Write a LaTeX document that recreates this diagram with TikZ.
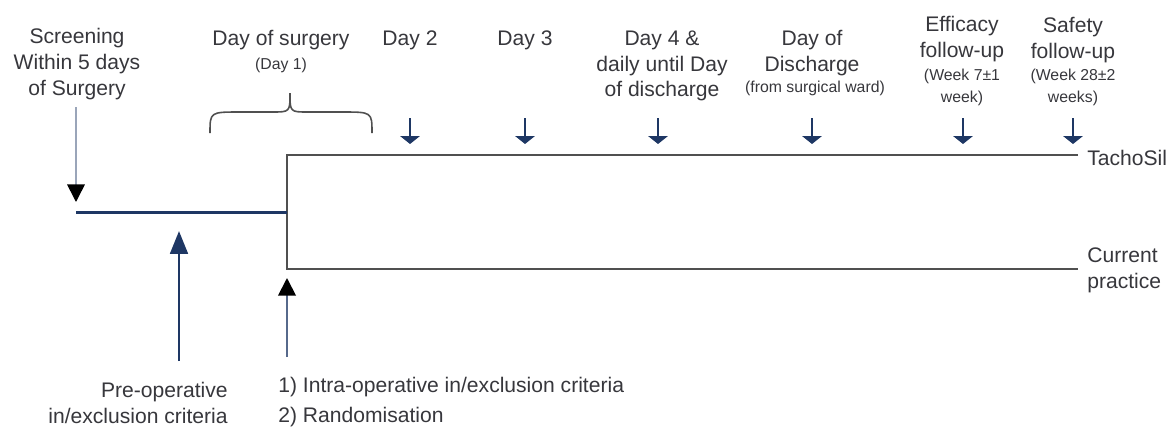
\documentclass[tikz,border=0pt]{standalone}
\usepackage{fontspec}
\setmainfont{Liberation Sans}
\usetikzlibrary{arrows.meta, positioning}
\definecolor{marino}{RGB}{30,55,100}
\definecolor{texto}{RGB}{55,55,60}
\definecolor{linea}{RGB}{80,80,80}
\tikzset{
  etiq/.style={align=center, text=texto, inner sep=0pt,
    font=\fontsize{12}{14.7}\selectfont},
  nota/.style={etiq, font=\fontsize{9}{12.5}\selectfont},
  rama/.style={draw=linea, line width=1.2pt},
  tronco/.style={draw=marino, line width=1.7pt},
  flecha/.style={-{Triangle[width=10pt, length=10pt, color=black]}, line width=0.9pt},
  flechag/.style={-{Triangle[width=10pt, length=13pt]}, draw=marino, line width=1.7pt},
  flechac/.style={-{Triangle[width=11pt, length=4.5pt]}, draw=marino, line width=1.2pt}
}
\begin{document}
\begin{tikzpicture}[x=0.02cm, y=-0.02cm]
  \useasboundingbox (0,0) rectangle (1172,430);
  % etiquetas de la linea temporal
  \node[etiq] (scr) at (77,64) {Screening\\Within 5 days\\of Surgery};
  \node[etiq] (cir) at (281,40) {Day of surgery};
  \node[nota, below=4pt of cir] (cirb) {(Day 1)};
  \node[etiq] (d2) at (410,40) {Day 2};
  \node[etiq] (d3) at (525,40) {Day 3};
  \node[etiq] (d4) at (662,66) {Day 4 \&\\daily until Day\\of discharge};
  \node[etiq] (alta) at (812,53) {Day of\\Discharge};
  \node[nota] (altab) at (815,88) {(from surgical ward)};
  \node[etiq] (efi) at (962,39) {Efficacy\\follow-up};
  \node[nota] (efib) at (962,87) {(Week 7±1\\week)};
  \node[etiq] (seg) at (1073,40) {Safety\\follow-up};
  \node[nota] (segb) at (1073,87) {(Week 28±2\\weeks)};
  \node[etiq, anchor=west] (tacho) at (1087,158) {TachoSil};
  \node[etiq, anchor=west, align=left] (actual) at (1087,270) {Current\\practice};
  \node[etiq, anchor=east, align=right, font=\fontsize{12}{15.3}\selectfont] (preop)
    at (228,403) {Pre-operative\\in/exclusion criteria};
  \node[etiq, anchor=west, align=left, font=\fontsize{12}{17.6}\selectfont] (intra)
    at (278,402) {1) Intra-operative in/exclusion criteria\\2) Randomisation};
  % llave del dia de cirugia
  \draw[linea, line width=0.9pt] (210,133) .. controls (210,112) .. (240,112) -- (272,112)
    .. controls (290,112) .. (290,93) .. controls (290,112) .. (308,112) -- (342,112)
    .. controls (372,112) .. (372,133);
  % brazos del ensayo
  \coordinate (ini) at (76,212);
  \coordinate (rand) at (287,212);
  \coordinate (tA) at (287,155);
  \coordinate (tB) at (1078,155);
  \coordinate (cA) at (287,269);
  \coordinate (cB) at (1078,269);
  \draw[rama] (tB) -- (tA) -- (cA) -- (cB);
  \draw[tronco] (ini) -- (rand);
  \coordinate (scrA) at (76,107);
  \coordinate (scrB) at (76,202);
  \draw[flecha, draw=marino!45] (scrA) -- (scrB);
  \coordinate (preA) at (179,361);
  \coordinate (preB) at (179,231);
  \draw[flechag] (preA) -- (preB);
  \coordinate (ranA) at (287,357);
  \coordinate (ranB) at (287,278);
  \draw[flecha, draw=marino!75, line width=1.1pt] (ranA) -- (ranB);
  % visitas
  \foreach \n/\x in {d2/410, d3/525, d4/658, alta/812, efi/963, seg/1073}{
    \coordinate (\n a) at (\x,118);
    \coordinate (\n b) at (\x,144);
    \draw[flechac] (\n a) -- (\n b);
  }
\end{tikzpicture}
\end{document}
